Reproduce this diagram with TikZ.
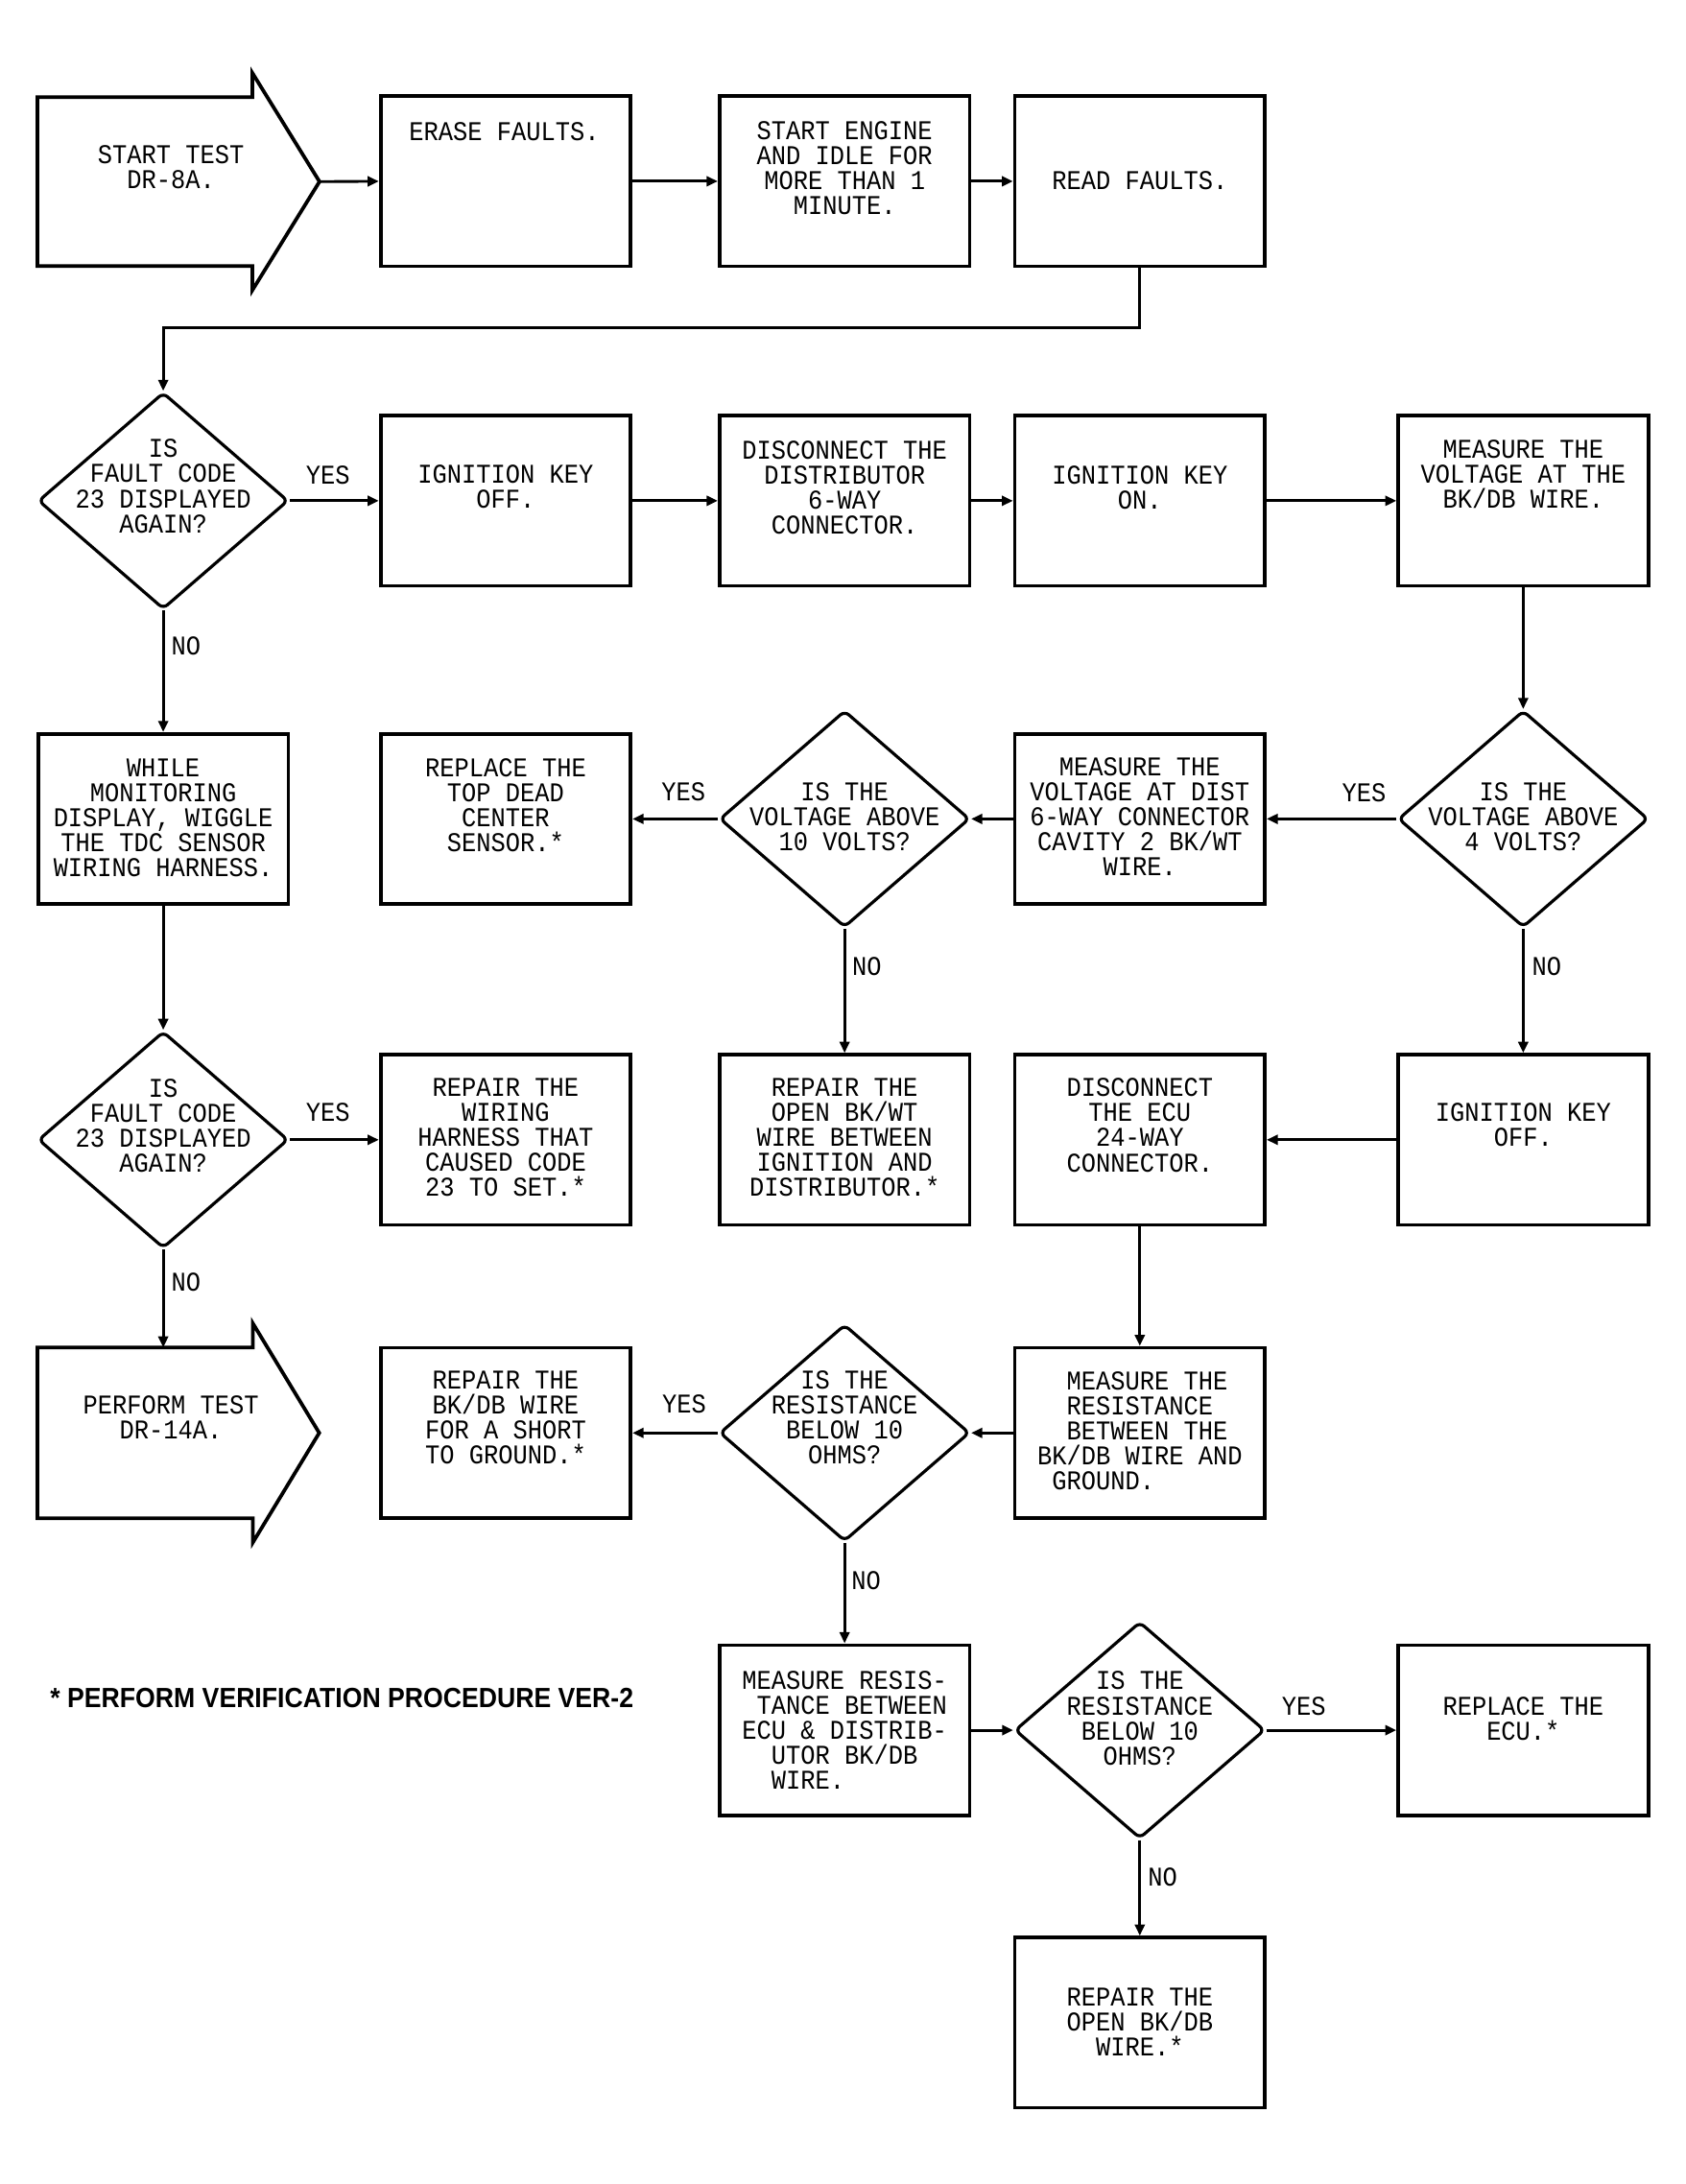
\documentclass[tikz,border=0pt]{standalone}
\usepackage{fontspec}
\usetikzlibrary{shapes.geometric, arrows.meta}
\newfontfamily\plotfont{Liberation Mono}[FakeStretch=0.9]
\newfontfamily\notefont{Liberation Sans}[FakeStretch=0.92]
\tikzset{
 box/.style={draw, line width=2.6pt, minimum width=180pt, minimum height=122.5pt, inner sep=0pt},
 test/.style={draw, diamond, line width=2.2pt, minimum width=180pt, minimum height=156pt, inner sep=0pt, rounded corners=4pt},
 txt/.style={font=\plotfont\fontsize{19.5}{18}\selectfont, align=center, inner sep=0pt},
 lab/.style={font=\plotfont\fontsize{19.5}{18}\selectfont, inner sep=0pt},
 flow/.style={line width=2pt, -{Triangle[length=8pt,width=7pt]}},
}

\begin{document}
\begin{tikzpicture}[x=1pt,y=-1pt]
\useasboundingbox (0,0) rectangle (1213,1572.2);
% boxes and tests
\foreach \n/\x/\y in {erase/364/130.5, engine/608/130.5, read/820.5/130.5,
 ignoff/364/360.5, disc/608/360.5, ignon/820.5/360.5, volt/1096.5/360.5,
 while/117.5/589.5, tdc/364/589.5, dist/820.5/589.5,
 harness/364/820.5, bkwt/608/820.5, ecu/820.5/820.5, ignoff2/1096.5/820.5,
 short/364/1031.5, res/820.5/1031.5, res2/608/1245.5, ecurep/1096.5/1245.5,
 open/820.5/1456}
 \node[box] (\n) at (\x,\y) {};
\foreach \n/\x/\y in {d1/117.5/360.5, d2/608/589.5, d3/1096.5/589.5,
 d4/117.5/820.5, d5/608/1031.5, d6/820.5/1245.5}
 \node[test] (\n) at (\x,\y) {};
% the two arrow shapes
\coordinate (start-tip) at (230,130.75);
\draw[line width=2.6pt] (27,70) -- (181.6,70) -- (181.6,52.4) -- (start-tip)
 -- (181.6,209) -- (181.6,191.5) -- (27,191.5) -- cycle;
\coordinate (perform-top) at (117.5,970);
\coordinate (perform-tip) at (229.8,1031.5);
\draw[line width=2.6pt] (27,970) -- (182,970) -- (182,952.6) -- (perform-tip)
 -- (182,1110.4) -- (182,1093) -- (27,1093) -- cycle;

% texts
\node[txt] (start-t) at (123,120) {START TEST\\DR-8A.};
\node[txt] (erase-t) at (363,95) {ERASE FAULTS.};
\node[txt] (engine-t) at (608,121) {START ENGINE\\AND IDLE FOR\\MORE THAN 1\\MINUTE.};
\node[txt] (read-t) at (820.5,130) {READ FAULTS.};
\node[txt] (d1-t) at (117.5,350) {IS\\FAULT CODE\\23 DISPLAYED\\AGAIN?};
\node[txt] (ignoff-t) at (364,350.5) {IGNITION KEY\\OFF.};
\node[txt] (disc-t) at (608,351) {DISCONNECT THE\\DISTRIBUTOR\\6-WAY\\CONNECTOR.};
\node[txt] (ignon-t) at (820.5,351) {IGNITION KEY\\ON.};
\node[txt] (volt-t) at (1096.5,341.5) {MEASURE THE\\VOLTAGE AT THE\\BK/DB WIRE.};
\node[txt] (while-t) at (117.5,588.5) {WHILE\\MONITORING\\DISPLAY, WIGGLE\\THE TDC SENSOR\\WIRING HARNESS.};
\node[txt] (tdc-t) at (364,579.5) {REPLACE THE\\TOP DEAD\\CENTER\\SENSOR.*};
\node[txt] (d2-t) at (608,588) {IS THE\\VOLTAGE ABOVE\\10 VOLTS?};
\node[txt] (dist-t) at (820.5,588) {MEASURE THE\\VOLTAGE AT DIST\\6-WAY CONNECTOR\\CAVITY 2 BK/WT\\WIRE.};
\node[txt] (d3-t) at (1096.5,588) {IS THE\\VOLTAGE ABOVE\\4 VOLTS?};
\node[txt] (d4-t) at (117.5,810.6) {IS\\FAULT CODE\\23 DISPLAYED\\AGAIN?};
\node[txt] (harness-t) at (364,819) {REPAIR THE\\WIRING\\HARNESS THAT\\CAUSED CODE\\23 TO SET.*};
\node[txt] (bkwt-t) at (608,819) {REPAIR THE\\OPEN BK/WT\\WIRE BETWEEN\\IGNITION AND\\DISTRIBUTOR.*};
\node[txt] (ecu-t) at (820.5,810) {DISCONNECT\\THE ECU\\24-WAY\\CONNECTOR.};
\node[txt] (ignoff2-t) at (1096.5,810) {IGNITION KEY\\OFF.};
\node[txt] (perform-t) at (123,1020.5) {PERFORM TEST\\DR-14A.};
\node[txt] (short-t) at (364,1020.5) {REPAIR THE\\BK/DB WIRE\\FOR A SHORT\\TO GROUND.*};
\node[txt] (d5-t) at (608,1020.5) {IS THE\\RESISTANCE\\BELOW 10\\OHMS?};
\node[txt, align=left] (res-t) at (820.5,1030) {\phantom{XX}MEASURE THE\\\phantom{XX}RESISTANCE\\\phantom{XX}BETWEEN THE\\BK/DB WIRE AND\\\phantom{X}GROUND.};
\node[txt, align=left] (res2-t) at (608,1245.5) {MEASURE RESIS-\\\phantom{X}TANCE BETWEEN\\ECU \& DISTRIB-\\\phantom{XX}UTOR BK/DB\\\phantom{XX}WIRE.};
\node[txt] (d6-t) at (820.5,1237) {IS THE\\RESISTANCE\\BELOW 10\\OHMS?};
\node[txt] (ecurep-t) at (1096.5,1237) {REPLACE THE\\ECU.*};
\node[txt] (open-t) at (820.5,1455.6) {REPAIR THE\\OPEN BK/DB\\WIRE.*};
\node[font=\notefont\bfseries\fontsize{20}{22}\selectfont, inner sep=0pt, anchor=west]
 (verify) at (36,1222) {* PERFORM VERIFICATION PROCEDURE VER-2};

% yes / no
\foreach \n/\x/\y/\t in {y1/236/342/YES, n1/134/465/NO, y2/492/570/YES,
 y3/982/570.5/YES, n2/624/695.6/NO, n3/1113.5/696/NO, y4/236/801/YES,
 n4/134/923/NO, y5/492.5/1011/YES, n5/623.5/1137.7/NO, y6/938.5/1228.6/YES,
 n6/837/1351.6/NO}
 \node[lab] (\n) at (\x,\y) {\t};

% connectors
\coordinate (bus) at (820.5,236);
\draw[flow] (start-tip) -- (erase.west);
\draw[flow] (erase) -- (engine);
\draw[flow] (engine) -- (read);
\draw[flow] (read.south) -- (bus) -| (d1.north);
\draw[flow] (d1.east) -- (ignoff.west);
\draw[flow] (ignoff) -- (disc);
\draw[flow] (disc) -- (ignon);
\draw[flow] (ignon) -- (volt);
\draw[flow] (d1.south) -- (while.north);
\draw[flow] (volt.south) -- (d3.north);
\draw[flow] (d3.west) -- (dist.east);
\draw[flow] (dist.west) -- (d2.east);
\draw[flow] (d2.west) -- (tdc.east);
\draw[flow] (d2.south) -- (bkwt.north);
\draw[flow] (d3.south) -- (ignoff2.north);
\draw[flow] (while.south) -- (d4.north);
\draw[flow] (d4.east) -- (harness.west);
\draw[flow] (ignoff2.west) -- (ecu.east);
\draw[flow] (d4.south) -- (perform-top);
\draw[flow] (ecu.south) -- (res.north);
\draw[flow] (res.west) -- (d5.east);
\draw[flow] (d5.west) -- (short.east);
\draw[flow] (d5.south) -- (res2.north);
\draw[flow] (res2.east) -- (d6.west);
\draw[flow] (d6.east) -- (ecurep.west);
\draw[flow] (d6.south) -- (open.north);
\end{tikzpicture}
\end{document}
